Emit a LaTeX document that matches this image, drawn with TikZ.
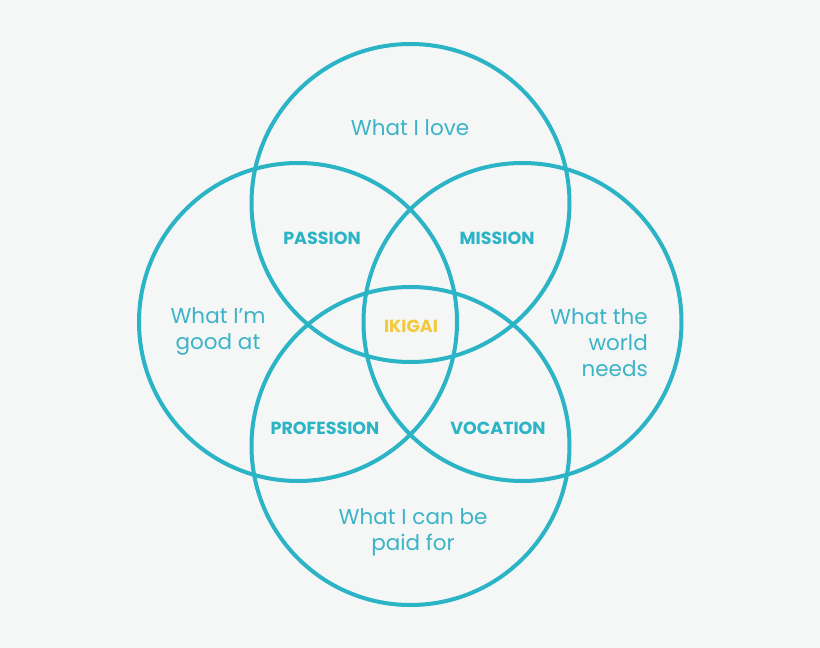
\documentclass[tikz,border=0pt]{standalone}
\usepackage{fontspec}
\setmainfont{Poppins}
\definecolor{bg}{HTML}{F5F6F6}
\definecolor{ring}{HTML}{2BB3C6}
\definecolor{txt}{HTML}{3BB4C8}
\definecolor{gold}{HTML}{F2C93A}
\begin{document}
\begin{tikzpicture}[x=1pt,y=-1pt,
  ringstyle/.style={draw=ring,line width=4pt,circle,minimum size=318pt,inner sep=0pt},
  lbl/.style={text=txt,font=\fontsize{21.5}{26}\selectfont,align=center,inner sep=0pt},
  zone/.style={text=ring,font=\fontsize{17.5}{20}\selectfont\bfseries,inner sep=0pt}]
\fill[bg] (0,0) rectangle (820,648);
\useasboundingbox (0,0) rectangle (820,648);
\node[ringstyle] (top) at (410.5,203) {};
\node[ringstyle] (left) at (298,322) {};
\node[ringstyle] (right) at (522.5,322) {};
\node[ringstyle] (bottom) at (410.5,446) {};
\node[lbl] (love) at (410,128) {What I love};
\node[lbl] (good) at (218,331) {What I’m\\good at};
\node[lbl,align=right,anchor=east] (world) at (648,343) {What the\\world\\needs};
\node[lbl] (paid) at (413,532) {What I can be\\paid for};
\node[zone] (passion) at (322,238) {PASSION};
\node[zone] (mission) at (497,238) {MISSION};
\node[zone] (profession) at (325,428) {PROFESSION};
\node[zone] (vocation) at (498,428) {VOCATION};
\node[zone,text=gold] (ikigai) at (411,326) {IKIGAI};
\end{tikzpicture}
\end{document}
